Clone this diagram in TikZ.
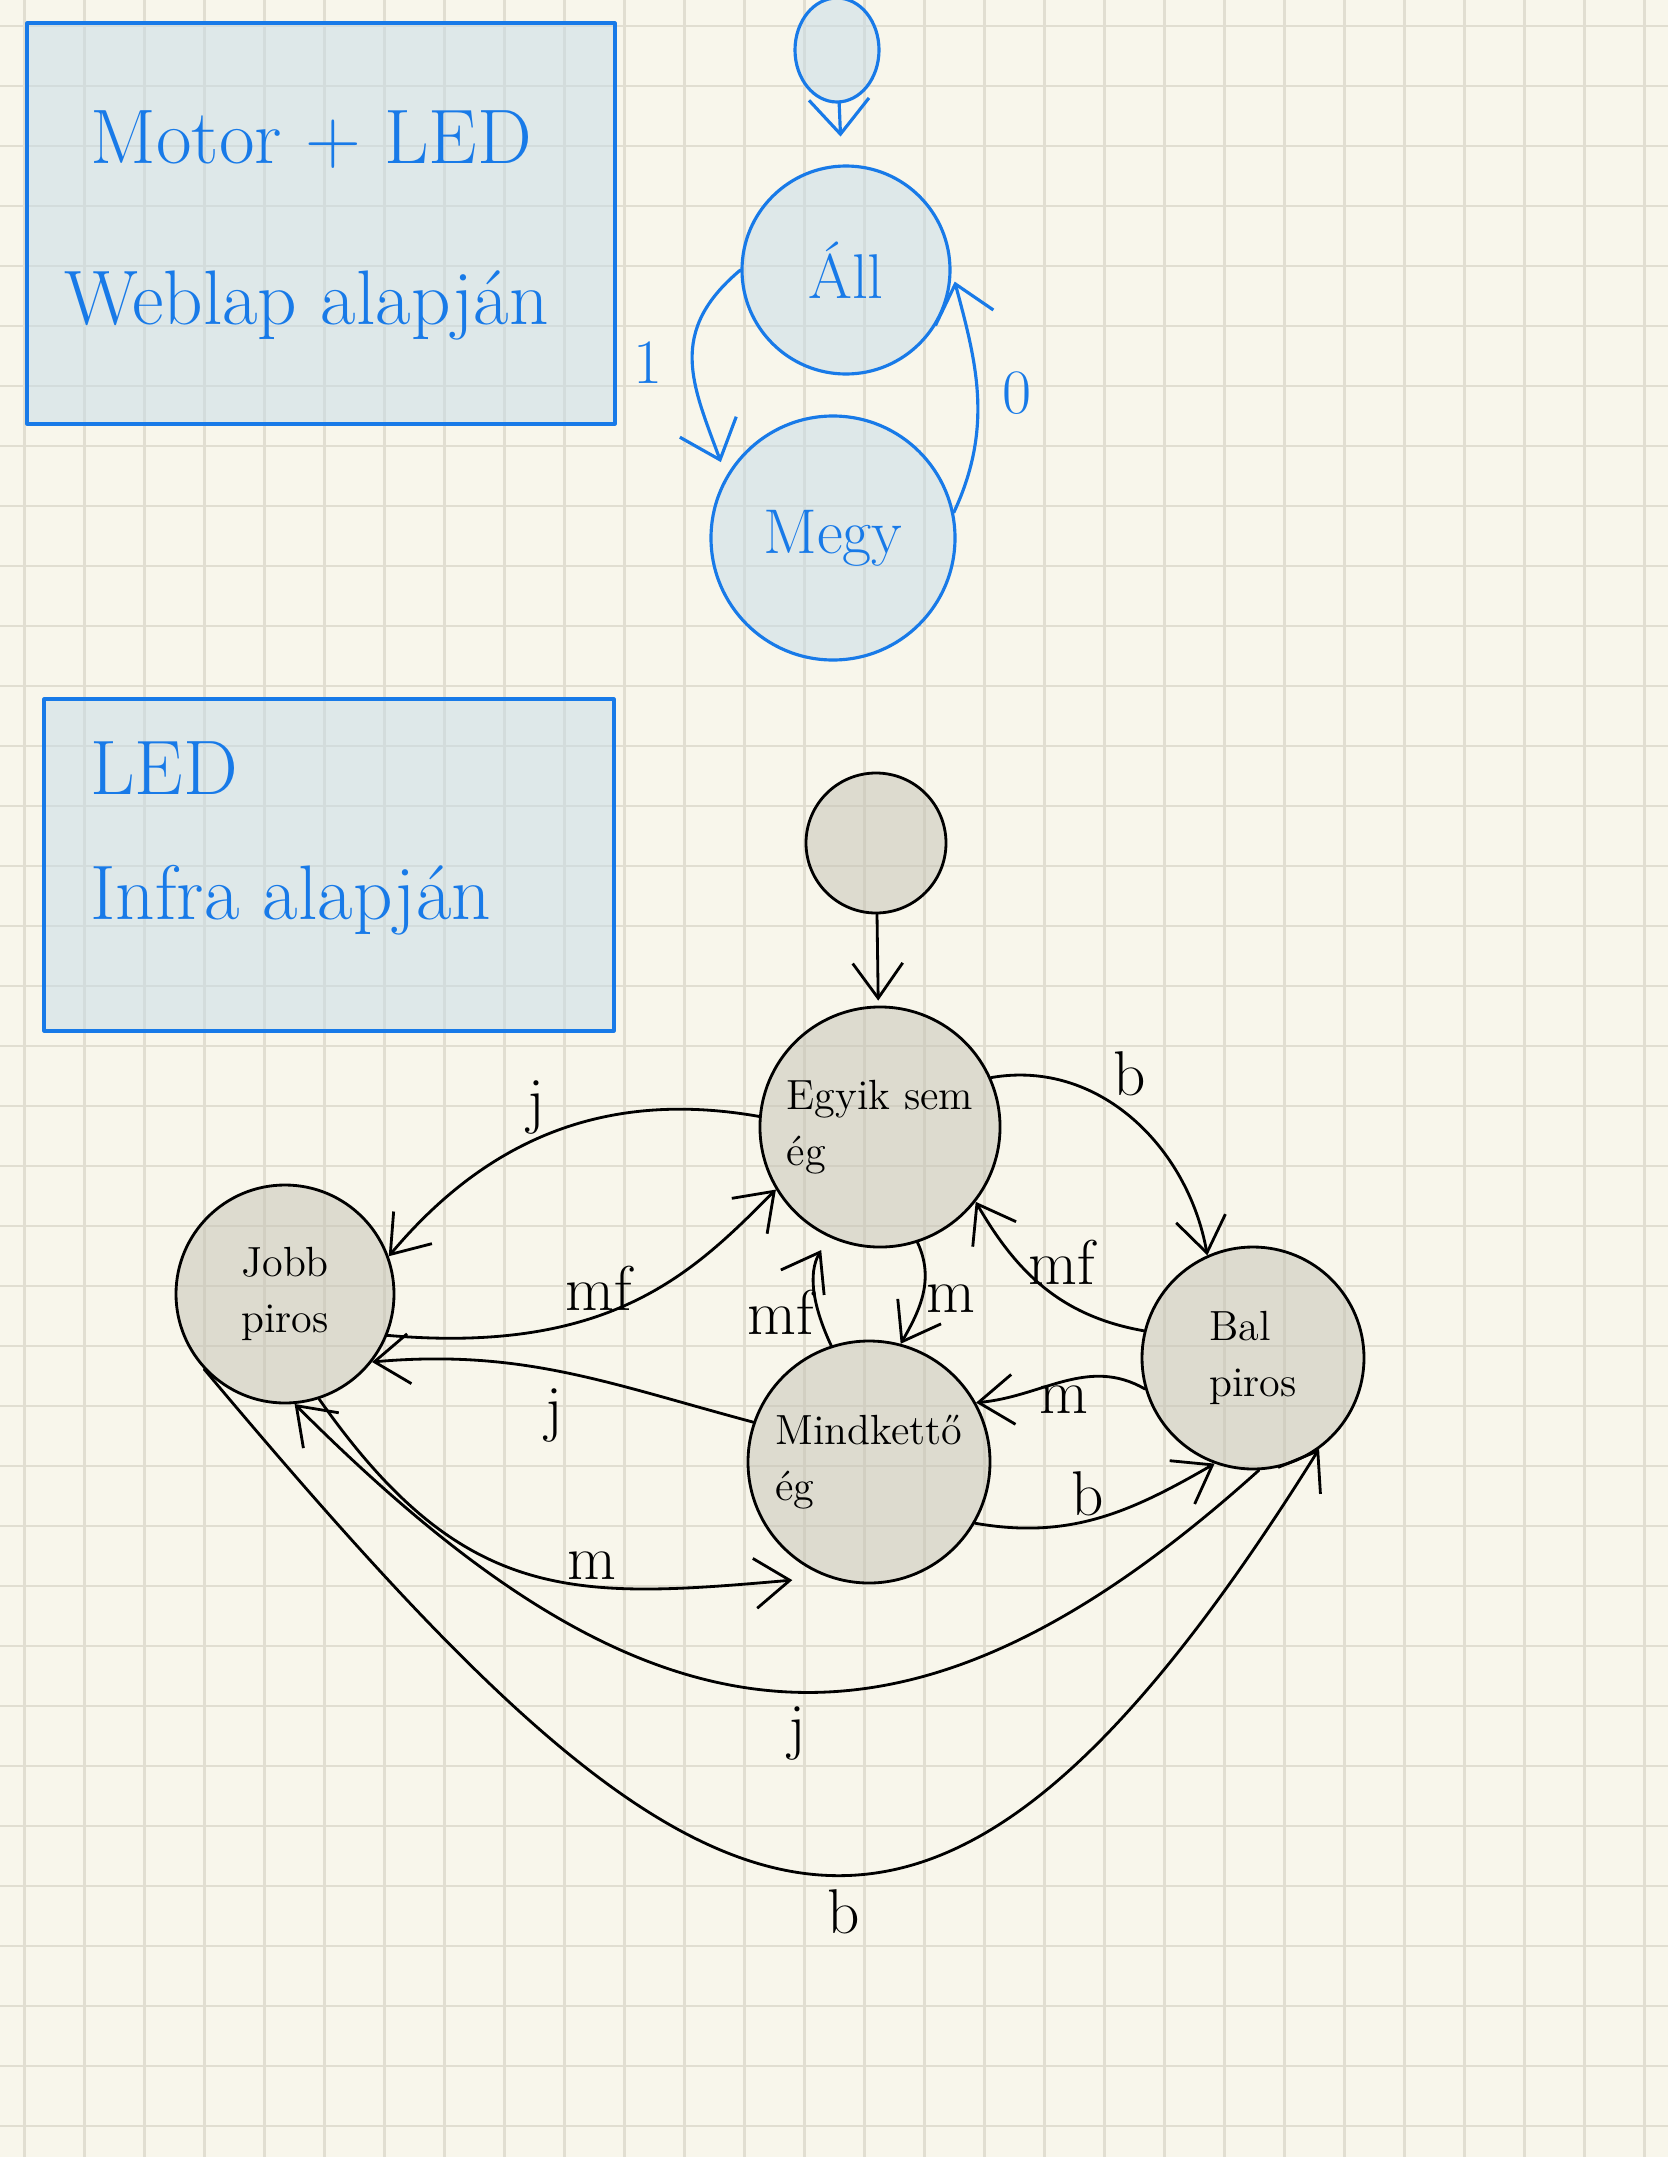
\documentclass[tikz,border=0pt]{standalone}
\usetikzlibrary{arrows.meta,shapes.geometric}
\definecolor{paper}{RGB}{248,246,235}
\definecolor{gridgray}{RGB}{225,222,209}
\definecolor{pen}{RGB}{24,122,232}
\definecolor{bluefill}{RGB}{198,220,232}
\definecolor{grayfill}{RGB}{196,194,180}
\begin{document}
\begin{tikzpicture}[x=0.1mm,y=0.1mm,line cap=round,line join=round]
  \tikzstyle{gridline}=[draw=gridgray,line width=0.8pt]
  \tikzstyle{notebox}=[draw=pen,fill=bluefill,fill opacity=0.5,line width=0.9pt]
  \tikzstyle{notetext}=[text=pen,anchor=west,font=\fontsize{22}{26}\selectfont]
  \tikzstyle{bstate}=[circle,draw=pen,fill=bluefill,fill opacity=0.5,text opacity=1,text=pen,line width=0.9pt,font=\fontsize{18}{22}\selectfont]
  \tikzstyle{btrans}=[draw=pen,line width=0.9pt,-{Straight Barb[length=3.5mm,width=6mm]}]
  \tikzstyle{state}=[circle,draw,fill=grayfill,fill opacity=0.5,text opacity=1,line width=0.8pt,align=left,font=\fontsize{12}{16}\selectfont]
  \tikzstyle{trans}=[line width=0.8pt,-{Straight Barb[length=3.5mm,width=5mm]}]
  \tikzstyle{lbl}=[font=\fontsize{18}{20}\selectfont,inner sep=1pt]
  % paper
  \useasboundingbox (0,0) rectangle (1668,-2157);
  \clip (0,0) rectangle (1668,-2157);
  \fill[paper] (0,0) rectangle (1668,-2157);
  \foreach \gx in {0,...,27} \draw[gridline] ({24.5+60*\gx},0) -- ({24.5+60*\gx},-2157);
  \foreach \gy in {0,...,35} \draw[gridline] (0,{-26-60*\gy}) -- (1668,{-26-60*\gy});
  % motor + LED
  \draw[notebox] (27,-23) rectangle (615,-424);
  \node[notetext] (motortitle) at (78,-140) {Motor + LED};
  \node[notetext] (webtitle) at (52,-305) {Weblap alapján};
  \node[bstate,ellipse,minimum width=8.4mm,minimum height=10.4mm] (start1) at (837,-50) {};
  \node[bstate,minimum size=20.8mm] (all) at (846,-270) {Áll};
  \node[bstate,minimum size=24.4mm] (megy) at (833,-538) {Megy};
  \draw[btrans,shorten >=2.8mm] (start1) -- (all);
  \draw[btrans,shorten >=1.5mm] (all.180) to[out=220,in=110,looseness=1.2] node[lbl,text=pen,left=2.5mm,pos=0.5] {1} (megy.150);
  \draw[btrans,shorten >=1.2mm] (megy.12) to[out=65,in=-75] node[lbl,text=pen,right=2mm] {0} (all.0);
  % LED
  \draw[notebox] (44,-699) rectangle (614,-1031);
  \node[notetext] (ledtitle) at (78,-768) {LED};
  \node[notetext] (infratitle) at (78,-900) {Infra alapján};
  \node[state,minimum size=14mm] (start2) at (876,-843) {};
  \node[state,minimum size=22.2mm] (egyik) at (880,-1127) {Egyik sem\\ég};
  \node[state,minimum size=21.8mm] (jobb) at (285,-1294) {Jobb\\piros};
  \node[state,minimum size=22.2mm] (bal) at (1253,-1358) {Bal\\piros};
  \node[state,minimum size=24.2mm] (mindketto) at (869,-1462) {Mindkettő\\ég};
  \draw[trans,shorten >=0.5mm] (start2) -- (egyik);
  \draw[trans] (egyik.175) to[out=170,in=50] node[lbl,pos=0.55,above] {j} (jobb.20);
  \draw[trans] (egyik.24) to[out=10,in=100] node[lbl,pos=0.4,above right] {b} (bal.114);
  \draw[trans] (jobb.-22) to[out=-5,in=225,out looseness=1.4,in looseness=0.7] node[lbl,pos=0.4,above] {mf} (egyik.211);
  \draw[trans,shorten >=1.5mm] (mindketto.108) to[out=115,in=240] node[lbl,pos=0.3,left] {mf} (egyik.245);
  \draw[trans] (egyik.-72) to[out=-65,in=60] node[lbl,pos=0.55,right] {m} (mindketto.75);
  \draw[trans] (bal.166) to[out=170,in=-60] node[lbl,pos=0.4,above=1mm] {mf} (egyik.-38);
  \draw[trans] (bal.196) to[out=150,in=5] node[lbl,pos=0.5,below] {m} (mindketto.29);
  \draw[trans] (mindketto.-30) to[out=-10,in=210] node[lbl,pos=0.45,above] {b} (bal.250);
  \draw[trans] (mindketto.161) to[out=165,in=5] node[lbl,pos=0.53,below=1.3mm] {j} (jobb.-38);
  \draw[trans,shorten >=3.5mm] (jobb.-72) to[out=-55,in=185,looseness=1.2] node[lbl,pos=0.62,above] {m} (mindketto.250);
  \draw[trans] (bal.-87) to[out=-138,in=-45,looseness=1.3] node[lbl,pos=0.47,below=1mm] {j} (jobb.-85);
  \draw[trans] (jobb.223) to[out=-50,in=238,looseness=1.75] node[lbl,pos=0.55,below=1mm] {b} (bal.-54);
\end{tikzpicture}
\end{document}
